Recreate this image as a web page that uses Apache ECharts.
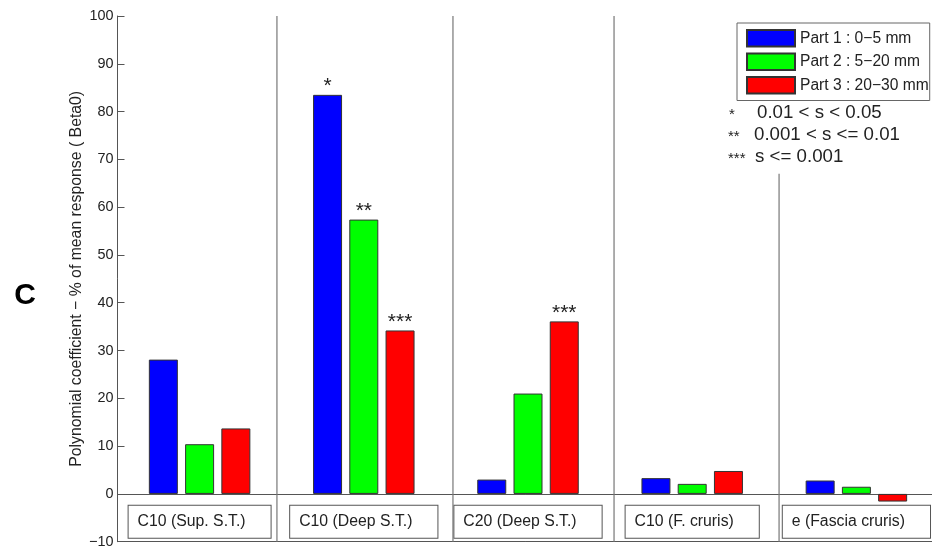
<!DOCTYPE html>
<html>
<head>
<meta charset="utf-8">
<script src="https://cdn.jsdelivr.net/npm/echarts@6/dist/echarts.min.js"></script>
<style>
  html, body { margin: 0; padding: 0; background: #fff; }
  #chart { width: 932px; height: 550px; }
</style>
</head>
<body>
<div id="chart"></div>
<script>
// Recording sites along the x axis
const categories = ['C10 (Sup. S.T.)', 'C10 (Deep S.T.)', 'C20 (Deep S.T.)', 'C10 (F. cruris)', 'e (Fascia cruris)'];

// Polynomial coefficient (Beta0, % of mean response) per depth band
const part1 = [28.1, 83.5, 3.0, 3.3, 2.8];
const part2 = [10.4, 57.4, 21.0, 2.1, 1.5];
const part3 = [13.7, 34.2, 36.1, 4.8, -1.6];

// Significance markers drawn above each bar
const sig1 = ['', '*', '', '', ''];
const sig2 = ['', '**', '', '', ''];
const sig3 = ['', '***', '***', '', ''];

const seriesNames = ['Part 1 : 0\u22125 mm', 'Part 2 : 5\u221220 mm', 'Part 3 : 20\u221230 mm'];

// Y axis range and tick step
const yMin = -10, yMax = 100, yStep = 10;

// Vertical separator lines between sites (x in category units, y span)
const sepX = [0.971, 2.043, 3.024, 4.029];
const sepTop = [100, 100, 100, 67];

// Significance legend lines
const sigKeys = ['*', '**', '***'];
const sigTexts = ['0.01 < s < 0.05', '0.001 < s <= 0.01', 's <= 0.001'];

const chart = echarts.init(document.getElementById('chart'), null, { renderer: 'canvas' });

const FONT = 'Liberation Sans, Arial, Helvetica, sans-serif';
const TEXT = '#222';
const AXIS = '#555';
const SEP = '#777';

function barSeries(name, data, sig, color) {
  return {
    name: name,
    type: 'bar',
    xAxisIndex: 0,
    yAxisIndex: 0,
    data: data,
    barWidth: 29,
    barGap: '25%',
    itemStyle: { color: color, borderColor: '#333', borderWidth: 1 },
    label: {
      show: true,
      position: 'top',
      distance: -2,
      fontFamily: FONT,
      fontSize: 21,
      color: TEXT,
      formatter: p => sig[p.dataIndex]
    }
  };
}

const sepSeries = sepX.map((x, i) => ({
  name: 'sep' + i,
  type: 'line',
  xAxisIndex: 1,
  yAxisIndex: 0,
  data: [[x, yMin], [x, sepTop[i]]],
  symbol: 'none',
  silent: true,
  lineStyle: { color: SEP, width: 1.2 },
  z: 1
}));

const sigGraphics = [];
const sigStarX = [729, 728, 728];
const sigTextX = [757, 754, 755];
const sigY = [113, 135, 157];
sigKeys.forEach((k, i) => {
  sigGraphics.push({
    type: 'text', x: sigStarX[i], y: sigY[i] + 2,
    style: { text: k, fill: TEXT, font: '15px ' + FONT, align: 'left', verticalAlign: 'middle' }
  });
  sigGraphics.push({
    type: 'text', x: sigTextX[i], y: sigY[i],
    style: { text: sigTexts[i], fill: TEXT, font: '18.7px ' + FONT, align: 'left', verticalAlign: 'middle' }
  });
});

const option = {
  animation: false,
  backgroundColor: '#fff',
  grid: {
    left: 117.5, top: 16, width: 821, height: 525.7,
    containLabel: false,
    outerBoundsMode: 'none'
  },
  legend: {
    data: seriesNames,
    orient: 'vertical',
    left: 737,
    top: 23,
    itemWidth: 48,
    itemHeight: 16.5,
    itemGap: 5,
    padding: [6, 1, 6, 9],
    borderColor: '#666',
    borderWidth: 1,
    backgroundColor: '#fff',
    icon: 'rect',
    textStyle: { fontFamily: FONT, fontSize: 15.6, color: TEXT },
    selectedMode: false
  },
  xAxis: [
    {
      type: 'category',
      data: categories,
      gridIndex: 0,
      axisLine: { show: true, onZero: true, lineStyle: { color: AXIS, width: 1 } },
      axisTick: { show: false },
      splitLine: { show: false },
      axisLabel: {
        interval: 0,
        margin: -36,
        fontFamily: FONT,
        fontSize: 15.8,
        lineHeight: 16,
        color: TEXT,
        borderColor: '#555',
        borderWidth: 1,
        padding: [8, 25, 8, 9],
        backgroundColor: '#fff'
      }
    },
    {
      type: 'value',
      gridIndex: 0,
      min: 0,
      max: 5,
      position: 'bottom',
      axisLine: { show: true, onZero: false, lineStyle: { color: AXIS, width: 1 } },
      axisTick: { show: false },
      axisLabel: { show: false },
      splitLine: { show: false }
    }
  ],
  yAxis: {
    type: 'value',
    min: yMin,
    max: yMax,
    interval: yStep,
    name: 'Polynomial coefficient \u2212 % of mean response ( Beta0)',
    nameLocation: 'middle',
    nameGap: 33,
    nameMoveOverlap: false,
    nameTextStyle: { fontFamily: FONT, fontSize: 15.8, color: TEXT },
    axisLine: { show: true, lineStyle: { color: AXIS, width: 1 } },
    axisTick: { show: true, inside: true, length: 7, lineStyle: { color: AXIS } },
    splitLine: { show: false },
    axisLabel: {
      margin: 4,
      fontFamily: FONT,
      fontSize: 14.4,
      color: TEXT,
      formatter: v => String(v).replace('-', '\u2212')
    }
  },
  graphic: [
    {
      type: 'text', x: 25, y: 296,
      style: { text: 'C', fill: '#000', font: 'bold 30px ' + FONT, align: 'center', verticalAlign: 'middle' }
    }
  ].concat(sigGraphics),
  series: [
    barSeries(seriesNames[0], part1, sig1, '#0000ff'),
    barSeries(seriesNames[1], part2, sig2, '#00ff00'),
    barSeries(seriesNames[2], part3, sig3, '#ff0000')
  ].concat(sepSeries)
};

chart.setOption(option);
</script>
</body>
</html>
